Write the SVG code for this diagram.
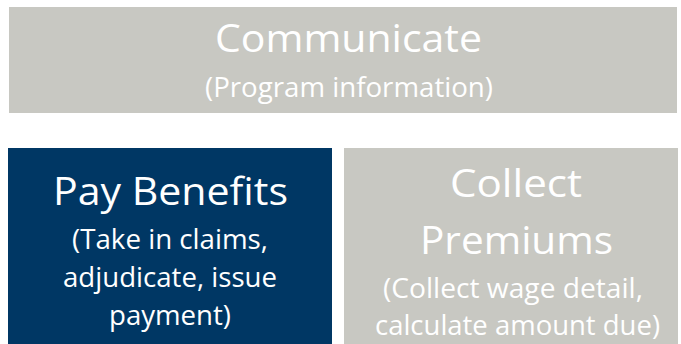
<svg xmlns="http://www.w3.org/2000/svg" width="681" height="344" viewBox="0 0 681 344">
<style>
.gray{fill:#C8C8C2}
.blue{fill:#003764}
text{font-family:"Open Sans","Noto Sans","DejaVu Sans",sans-serif;fill:#FFFFFF;text-anchor:middle}
.t{font-size:38px}
.s{font-size:27px}
</style>
<rect width="681" height="344" fill="#FFFFFF"/>
<g id="communicate">
<rect class="gray" x="9" y="7" width="668" height="106"/>
<text class="t" x="348.5" y="52" textLength="267" lengthAdjust="spacingAndGlyphs">Communicate</text>
<text class="s" x="349" y="97" textLength="288" lengthAdjust="spacingAndGlyphs">(Program information)</text>
</g>
<g id="pay-benefits">
<rect class="blue" x="8" y="148" width="324" height="196"/>
<text class="t" x="170.5" y="205" textLength="235" lengthAdjust="spacingAndGlyphs">Pay Benefits</text>
<text class="s" x="170" y="249" textLength="196" lengthAdjust="spacingAndGlyphs">(Take in claims,</text>
<text class="s" x="170" y="287" textLength="214" lengthAdjust="spacingAndGlyphs">adjudicate, issue</text>
<text class="s" x="170" y="325" textLength="122" lengthAdjust="spacingAndGlyphs">payment)</text>
</g>
<g id="collect-premiums">
<rect class="gray" x="344" y="148" width="334" height="196"/>
<text class="t" x="516" y="197" textLength="132" lengthAdjust="spacingAndGlyphs">Collect</text>
<text class="t" x="516.5" y="254" textLength="193" lengthAdjust="spacingAndGlyphs">Premiums</text>
<text class="s" x="513" y="298" textLength="260" lengthAdjust="spacingAndGlyphs">(Collect wage detail,</text>
<text class="s" x="517.5" y="335" textLength="285" lengthAdjust="spacingAndGlyphs">calculate amount due)</text>
</g>
<g id="connectors"/>
</svg>
